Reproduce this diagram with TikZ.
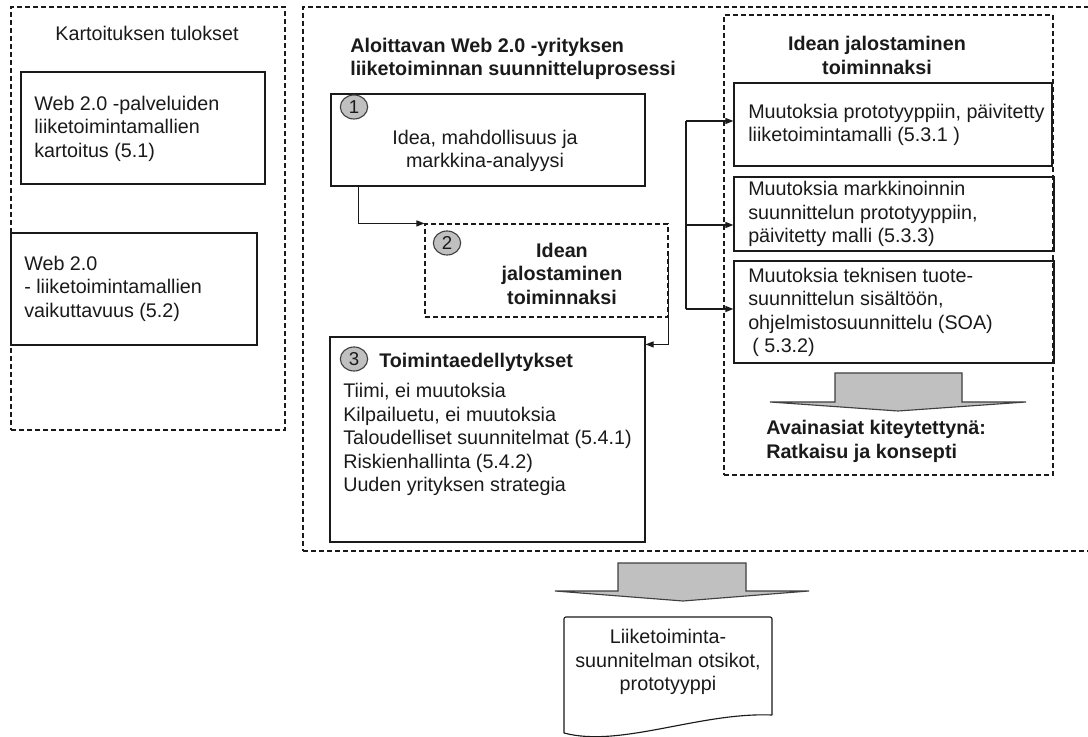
\documentclass[tikz,border=0pt]{standalone}
\usepackage{fontspec}
\setmainfont{Liberation Sans}
\usetikzlibrary{fit,shapes.geometric,arrows.meta}
\definecolor{ink}{HTML}{1A1A1A}
\definecolor{shade}{HTML}{C0C0C0}
\definecolor{rim}{HTML}{404040}
\tikzset{
  box/.style={draw=ink, line width=0.85pt, inner sep=0pt},
  dbox/.style={box, dash pattern=on 3.5pt off 2.5pt},
  txt/.style={inner sep=0pt, text=ink, font=\fontsize{14.8}{17.6}\selectfont},
  btxt/.style={inner sep=0pt, text=ink, font=\fontsize{14.8}{17.6}\selectfont\bfseries},
  ltxt/.style={txt, align=left, anchor=west},
  lbtxt/.style={btxt, align=left, anchor=west},
  num/.style={ellipse, draw=rim, fill=shade, line width=0.85pt, minimum width=20.5pt,
    minimum height=18pt, inner sep=0pt, text=ink, font=\fontsize{14}{14}\selectfont},
  arr/.style={draw=ink, line width=0.85pt, -{Triangle[length=6pt,width=4.5pt]}},
  line/.style={draw=ink, line width=0.85pt},
  blockarrow/.style={draw=rim, fill=shade, line width=0.85pt, line join=miter},
}
\begin{document}
\begin{tikzpicture}[x=0.75pt, y=-0.75pt]
\clip (0,0) rectangle (1088,737);
\fill[white] (0,0) rectangle (1088,737);

% survey results column
\node[dbox, fit={(11,7) (285,430)}] (survey) {};
\node[txt] (surveytitle) at (147,33) {Kartoituksen tulokset};
\node[box, fit={(21,72) (265,184)}] (kA) {};
\node[ltxt] (kAtext) at (34,128.5) {Web 2.0 -palveluiden\\liiketoimintamallien\\kartoitus (5.1)};
\node[box, fit={(11,233) (257,345)}] (kB) {};
\node[ltxt] (kBtext) at (24,288.5) {Web 2.0\\- liiketoimintamallien\\vaikuttavuus (5.2)};

% planning process frame
\node[dbox, fit={(303,7) (1100,551)}] (process) {};
\node[lbtxt] (processtitle) at (350,59) {Aloittavan Web 2.0 -yrityksen\\liiketoiminnan suunnitteluprosessi};

% step 1
\node[box, fit={(331,94) (645,186)}] (s1) {};
\node[num] (n1) at (354,107) {1};
\node[txt, align=center] (s1text) at (485,151) {Idea, mahdollisuus ja\\markkina-analyysi};

% step 2
\node[dbox, fit={(425,224) (668,317)}] (s2) {};
\node[num] (n2) at (447,243) {2};
\node[btxt, align=center] (s2text) at (562,273.5) {Idean\\jalostaminen\\toiminnaksi};

% step 3
\node[box, fit={(330,337) (645,542)}] (s3) {};
\node[num] (n3) at (354,359) {3};
\node[lbtxt] (s3title) at (379,362) {Toimintaedellytykset};
\node[ltxt] (s3text) at (343,439.5) {Tiimi, ei muutoksia\\Kilpailuetu, ei muutoksia\\Taloudelliset suunnitelmat (5.4.1)\\Riskienhallinta (5.4.2)\\Uuden yrityksen strategia};

% refinement column
\node[dbox, fit={(724,15) (1053,475)}] (refine) {};
\node[btxt, align=center] (refinetitle) at (877,55.5) {Idean jalostaminen\\toiminnaksi};
\node[box, fit={(734,83) (1052,166)}] (r1) {};
\node[ltxt] (r1text) at (748,125) {Muutoksia prototyyppiin, päivitetty\\liiketoimintamalli (5.3.1 )};
\node[box, fit={(734,177) (1054,251)}] (r2) {};
\node[ltxt] (r2text) at (748,214) {Muutoksia markkinoinnin\\suunnittelun prototyyppiin,\\päivitetty malli (5.3.3)};
\node[box, fit={(734,261) (1054,363)}] (r3) {};
\node[ltxt] (r3text) at (748,312.5) {Muutoksia teknisen tuote-\\suunnittelun sisältöön,\\ohjelmistosuunnittelu (SOA)\\\hspace*{3pt}( 5.3.2)};
\draw[blockarrow] (835,373) -- (962,373) -- (962,402) -- (1026,402) -- (898,411)
  -- (770,402) -- (835,402) -- cycle;
\node[lbtxt] (keytext) at (766,441.5) {Avainasiat kiteytettynä:\\Ratkaisu ja konsepti};

% connectors
\draw[arr] ([xshift=21pt]s1.south west) |- (s2.north west);
\draw[arr] ([yshift=-21.75pt]s2.north east) |- ([yshift=-6pt]s3.north east);
\coordinate (bt) at (686,121);
\coordinate (bm) at (686,225);
\coordinate (bb) at (686,309);
\draw[line] (bt) -- (bb);
\draw[arr] (bt) -- (bt -| r1.west);
\draw[arr] (bm) -- (bm -| r2.west);
\draw[arr] (bb) -- (bb -| r3.west);

% result
\draw[blockarrow] (618,563) -- (746,563) -- (746,591) -- (809,591) -- (683,601)
  -- (555,591) -- (618,591) -- cycle;
\draw[box, rounded corners=1.5pt] (564,733) -- (564,617) -- (772,617) -- (772,715);
\draw[box] (772,715) .. controls (700,712) and (620,748) .. (564,733);
\node[txt, align=center] (doc) at (668,662) {Liiketoiminta-\\suunnitelman otsikot,\\prototyyppi};
\end{tikzpicture}
\end{document}
